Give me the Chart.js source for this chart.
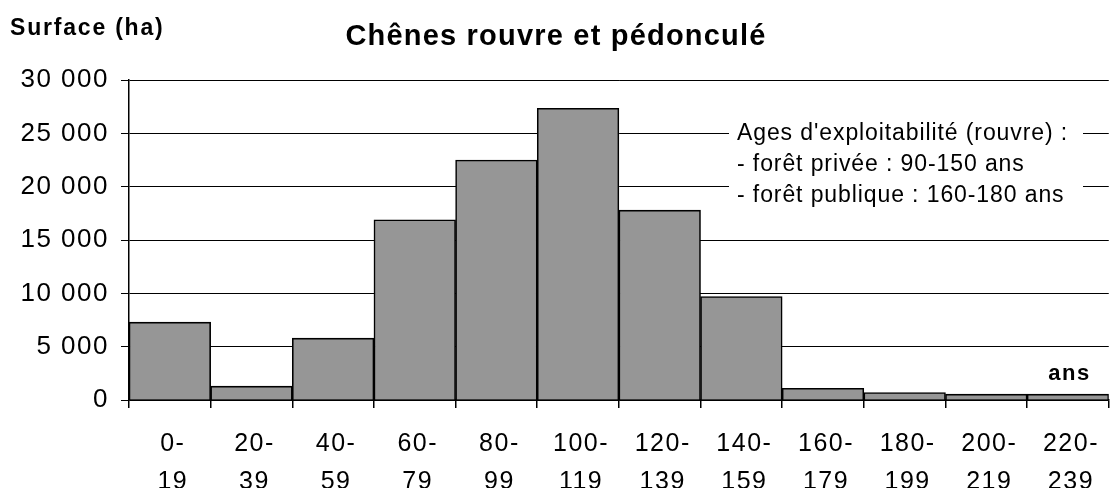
<!DOCTYPE html>
<html>
<head>
<meta charset="utf-8">
<script src="https://cdn.jsdelivr.net/npm/chart.js@4/dist/chart.umd.min.js"></script>
<style>
  html, body { margin: 0; padding: 0; background: #fff; }
  #wrap { width: 1110px; height: 488px; }
</style>
</head>
<body>
<div id="wrap"><canvas id="chart"></canvas></div>
<script>
const ageClasses = [['0-', '19'], ['20-', '39'], ['40-', '59'], ['60-', '79'], ['80-', '99'], ['100-', '119'],
  ['120-', '139'], ['140-', '159'], ['160-', '179'], ['180-', '199'], ['200-', '219'], ['220-', '239']];
const surfaces = [7300, 1300, 5800, 16900, 22500, 27350, 17800, 9700, 1100, 700, 550, 550];
const yTicks = [0, 5000, 10000, 15000, 20000, 25000, 30000];
const noteLines = ["Ages d'exploitabilité (rouvre) :", '- forêt privée : 90-150 ans', '- forêt publique : 160-180 ans'];

const FONT = "'Liberation Sans', Arial, sans-serif";

// extra text drawing: title, axis names, note box
const textPlugin = {
  id: 'texts',
  beforeDraw(chart) {
    chart.ctx.letterSpacing = '1.5px';
  },
  afterDraw(chart) {
    const ctx = chart.ctx;
    const area = chart.chartArea;
    const y = chart.scales.y;
    ctx.save();
    ctx.fillStyle = '#000';
    ctx.textBaseline = 'alphabetic';

    ctx.letterSpacing = '1.8px';
    ctx.font = 'bold 23px ' + FONT;
    ctx.textAlign = 'left';
    ctx.fillText('Surface (ha)', 10, 35);

    ctx.letterSpacing = '1.2px';
    ctx.font = 'bold 29px ' + FONT;
    ctx.textAlign = 'center';
    ctx.fillText('Chênes rouvre et pédonculé', 556, 45);

    ctx.letterSpacing = '1.5px';
    ctx.font = 'bold 22px ' + FONT;
    ctx.textAlign = 'right';
    ctx.fillText('ans', area.right - 18, y.getPixelForValue(1900));

    // note box (white background hides grid lines)
    ctx.fillStyle = '#fff';
    ctx.fillRect(729, y.getPixelForValue(27300), 354, y.getPixelForValue(17500) - y.getPixelForValue(27300));
    ctx.fillStyle = '#000';
    ctx.font = '23px ' + FONT;
    ctx.letterSpacing = '0.9px';
    ctx.textAlign = 'left';
    noteLines.forEach((t, i) => ctx.fillText(t, 737, 140 + i * 31));
    ctx.restore();
  }
};

new Chart(document.getElementById('chart'), {
  type: 'bar',
  data: {
    labels: ageClasses,
    datasets: [{
      data: surfaces,
      backgroundColor: '#969696',
      borderColor: '#000',
      borderWidth: 1.6,
      barPercentage: 1,
      categoryPercentage: 1,
    }],
  },
  options: {
    responsive: true,
    maintainAspectRatio: false,
    animation: false,
    layout: { padding: { top: 80, right: 1, left: 0, bottom: 0 } },
    plugins: {
      legend: { display: false },
      tooltip: { enabled: false },
      title: { display: false },
    },
    scales: {
      x: {
        offset: true,
        afterFit: (s) => { s.height = 88; },
        grid: { drawOnChartArea: false, drawTicks: true, tickLength: 8, color: '#000', lineWidth: 1.5, offset: true },
        border: { display: true, color: '#000', width: 1.5 },
        ticks: {
          color: '#000',
          padding: 17,
          labelOffset: 3,
          maxRotation: 0,
          autoSkip: false,
          font: { family: FONT, size: 25, lineHeight: 1.52 },
        },
      },
      y: {
        min: 0,
        max: 30000,
        afterFit: (s) => { s.width = 129; },
        afterBuildTicks: (s) => { s.ticks = yTicks.map(v => ({ value: v })); },
        grid: { color: '#000', lineWidth: 1, tickLength: 8 },
        border: { display: true, color: '#000', width: 1.5 },
        ticks: {
          color: '#000',
          padding: 12,
          font: { family: FONT, size: 26 },
          callback: (v) => String(v).replace(/\B(?=(\d{3})+(?!\d))/g, ' '),
        },
      },
    },
  },
  plugins: [textPlugin],
});
</script>
</body>
</html>
